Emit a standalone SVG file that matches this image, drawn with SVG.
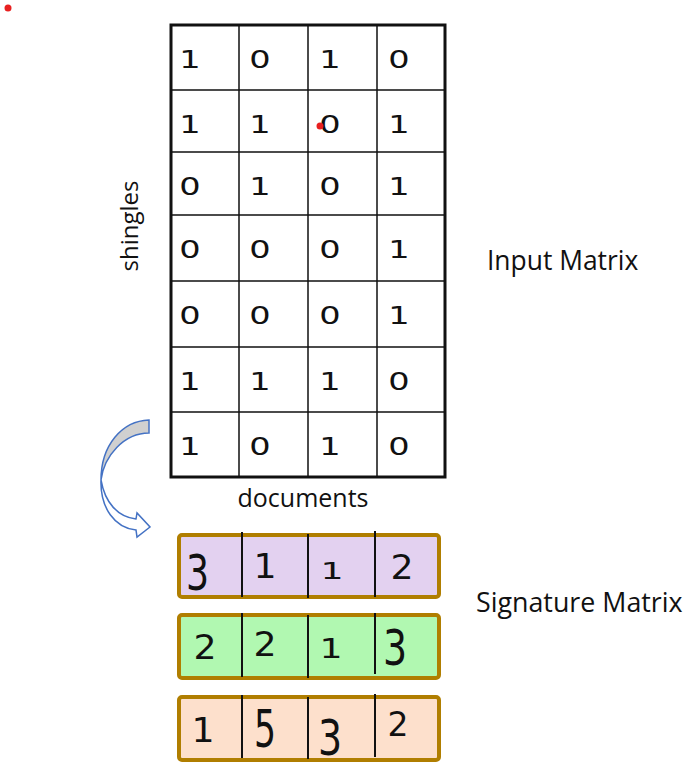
<svg xmlns="http://www.w3.org/2000/svg" width="687" height="770" viewBox="0 0 687 770">
<style>
.d{font-family:"DejaVu Sans",sans-serif;font-size:24px;fill:#111;text-anchor:middle}
.s{font-family:"DejaVu Sans",sans-serif;font-size:33px;fill:#111;text-anchor:middle}
.lbl{font-family:"Open Sans","Noto Sans",sans-serif;fill:#111}
.grid{stroke:#111;stroke-width:1.5;fill:none}
.box{stroke:#b07e00;stroke-width:4}
.div{stroke:#111;stroke-width:2}
</style>
<rect width="687" height="770" fill="#fff"/>
<circle cx="8" cy="8" r="3.5" fill="#e82020"/>
<g id="input-matrix">
<rect x="171" y="25" width="274" height="452" fill="none" stroke="#111" stroke-width="3"/>
<path class="grid" d="M239,25V477M308,25V477M377,25V477M171,90H445M171,152H445M171,215H445M171,281H445M171,347H445M171,412H445"/>
<g transform="scale(1.4,1)">
<text class="d" x="135.7" y="68">1</text><text class="d" x="185.7" y="68">0</text><text class="d" x="235.7" y="68">1</text><text class="d" x="285" y="68">0</text>
<text class="d" x="135.7" y="133">1</text><text class="d" x="185.7" y="133">1</text><text class="d" x="235.7" y="133">0</text><text class="d" x="285" y="133">1</text>
<text class="d" x="135.7" y="195">0</text><text class="d" x="185.7" y="195">1</text><text class="d" x="235.7" y="195">0</text><text class="d" x="285" y="195">1</text>
<text class="d" x="135.7" y="258">0</text><text class="d" x="185.7" y="258">0</text><text class="d" x="235.7" y="258">0</text><text class="d" x="285" y="258">1</text>
<text class="d" x="135.7" y="324">0</text><text class="d" x="185.7" y="324">0</text><text class="d" x="235.7" y="324">0</text><text class="d" x="285" y="324">1</text>
<text class="d" x="135.7" y="390">1</text><text class="d" x="185.7" y="390">1</text><text class="d" x="235.7" y="390">1</text><text class="d" x="285" y="390">0</text>
<text class="d" x="135.7" y="455">1</text><text class="d" x="185.7" y="455">0</text><text class="d" x="235.7" y="455">1</text><text class="d" x="285" y="455">0</text>
</g>
<circle cx="320" cy="126" r="3.5" fill="#e82020"/>
<text class="lbl" font-size="24" transform="translate(138,226) rotate(-90)" text-anchor="middle">shingles</text>
<text class="lbl" font-size="25" x="303" y="507" text-anchor="middle">documents</text>
<text class="lbl" font-size="26.4" x="487" y="270">Input Matrix</text>
</g>
<g id="connectors">
<path d="M149,420 C122,421 101,445 101,480 C104,456 124,433 149,433 Z" fill="#d0d0d0" stroke="#4472c4" stroke-width="1.5"/>
<path d="M101,480 C100,508 115,528 136,530 L137,537 L150,527 L137,513 L136,519 C118,517 105,503 101,480 Z" fill="#fff" stroke="#4472c4" stroke-width="1.5"/>
</g>
<g id="signature-matrix">
<g id="sig-row1">
<rect class="box" x="179" y="535" width="260" height="62" rx="3" fill="#e3d1f0"/>
<path class="div" d="M242,532V597M308,534V598M375,531V597"/>
<text class="s" transform="translate(197.5,590) scale(1.1,1.5)">3</text>
<text class="s" transform="translate(265,578) scale(1.1,1)">1</text>
<text class="s" transform="translate(332,579) scale(1.1,0.68)">1</text>
<text class="s" transform="translate(402,579) scale(1.1,1)">2</text>
</g>
<g id="sig-row2">
<rect class="box" x="179" y="615" width="260" height="63" rx="3" fill="#b1f8b1"/>
<path class="div" d="M242,613V677M308,615V678M375,613V674"/>
<text class="s" transform="translate(205,659) scale(1.1,1)">2</text>
<text class="s" transform="translate(265,656) scale(1.1,1.03)">2</text>
<text class="s" transform="translate(331,658) scale(1.1,0.82)">1</text>
<text class="s" transform="translate(395,665) scale(1.15,1.5)">3</text>
</g>
<g id="sig-row3">
<rect class="box" x="179" y="697" width="260" height="63" rx="3" fill="#fde0cc"/>
<path class="div" d="M242,695V758M308,697V759M375,694V757"/>
<text class="s" transform="translate(203,742) scale(1.1,1)">1</text>
<text class="s" transform="translate(265,747) scale(1.05,1.55)">5</text>
<text class="s" transform="translate(330,755) scale(1.15,1.5)">3</text>
<text class="s" transform="translate(398,736) scale(1,1)">2</text>
</g>
<text class="lbl" font-size="26.8" x="476" y="612">Signature Matrix</text>
</g>
</svg>
